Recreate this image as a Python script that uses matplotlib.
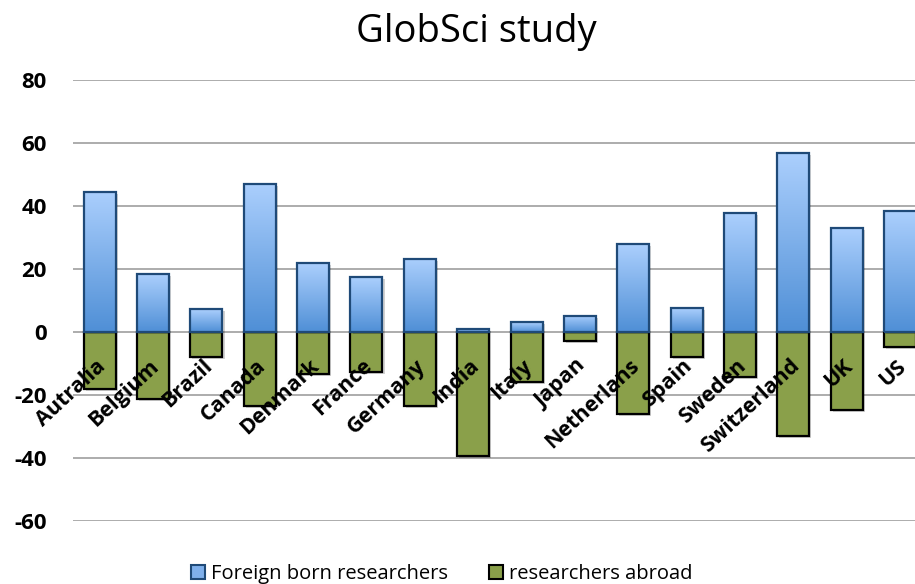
import numpy as np
import matplotlib.pyplot as plt
import matplotlib.patheffects as pe
from matplotlib.colors import LinearSegmentedColormap
from matplotlib.patches import Patch

# --- data ---
countries = ['Autralia', 'Belgium', 'Brazil', 'Canada', 'Denmark', 'France',
             'Germany', 'India', 'Italy', 'Japan', 'Netherlans', 'Spain',
             'Sweden', 'Switzerland', 'UK', 'US']
foreign_born = [44.5, 18.3, 7.2, 47.0, 21.8, 17.4, 23.2, 1.0, 3.1, 5.2,
                27.8, 7.5, 37.7, 56.7, 32.9, 38.4]
abroad = [-18.2, -21.4, -8.0, -23.5, -13.3, -12.6, -23.5, -39.4, -16.0, -2.8,
          -26.0, -8.0, -14.2, -32.9, -24.8, -4.7]
yticks = [-60, -40, -20, 0, 20, 40, 60, 80]

plt.rcParams['font.family'] = ['Open Sans', 'DejaVu Sans']

fig = plt.figure(figsize=(9.15, 5.84), dpi=100)
ax = fig.add_axes([0.0798, 0.108, 0.9202, 0.755])

x = np.arange(len(countries))
width = 0.6
blue_edge = '#1f4a78'
green_face = '#8aa04a'

shadow = [pe.SimplePatchShadow(offset=(1.5, -1.5), shadow_rgbFace='#000000', alpha=0.18), pe.Normal()]

# green (negative) bars
ax.bar(x, abroad, width, color=green_face, edgecolor='black', linewidth=1.6,
       zorder=3, path_effects=shadow)

# blue (positive) bars with vertical gradient
cmap = LinearSegmentedColormap.from_list('bl', ['#4f8fd6', '#abcffd'])
grad = np.linspace(0, 1, 256).reshape(-1, 1)
bars = ax.bar(x, foreign_born, width, facecolor='none', edgecolor=blue_edge,
              linewidth=1.6, zorder=5)
for b in bars:
    x0, w, h = b.get_x(), b.get_width(), b.get_height()
    im = ax.imshow(grad, extent=[x0, x0 + w, 0, h], origin='lower', cmap=cmap,
                   aspect='auto', zorder=4)
    im.set_clip_path(b)
    sh = plt.Rectangle((x0, 0), w, h, facecolor='none', edgecolor='none', zorder=3.5,
                       path_effects=[pe.SimplePatchShadow(offset=(1.5, -1.5),
                                                          shadow_rgbFace='#000000', alpha=0.18)])
    ax.add_patch(sh)

# category labels next to the zero line
for xi, name in zip(x, countries):
    ax.text(xi - 0.08, -7.5, name, rotation=43, rotation_mode='anchor',
            ha='right', va='top', fontsize=15.5, fontweight='bold', color='black',
            zorder=6)

ax.set_xlim(-0.5, 15.28)
ax.set_ylim(-60, 80)
ax.set_yticks(yticks)
ax.set_yticklabels([str(v) for v in yticks], fontsize=16, fontweight='bold')
ax.set_xticks([])
ax.tick_params(axis='y', length=0, pad=19)
ax.grid(axis='y', color='#a6a6a6', linewidth=1.3, zorder=0)
ax.set_axisbelow(True)
for s in ax.spines.values():
    s.set_visible(False)

fig.text(0.521, 0.928, 'GlobSci study', ha='center', va='baseline', fontsize=27.5)

handles = [Patch(facecolor='#7fb0ec', edgecolor=blue_edge, linewidth=1.5),
           Patch(facecolor=green_face, edgecolor='black', linewidth=1.5)]
fig.legend(handles, ['Foreign born researchers', 'researchers abroad'],
           loc='center', bbox_to_anchor=(0.483, 0.017), ncol=2, frameon=False,
           fontsize=14.5, handlelength=0.7, handleheight=0.7,
           handletextpad=0.3, columnspacing=2.05)

fig.savefig('out.png', dpi=100, facecolor='white')
